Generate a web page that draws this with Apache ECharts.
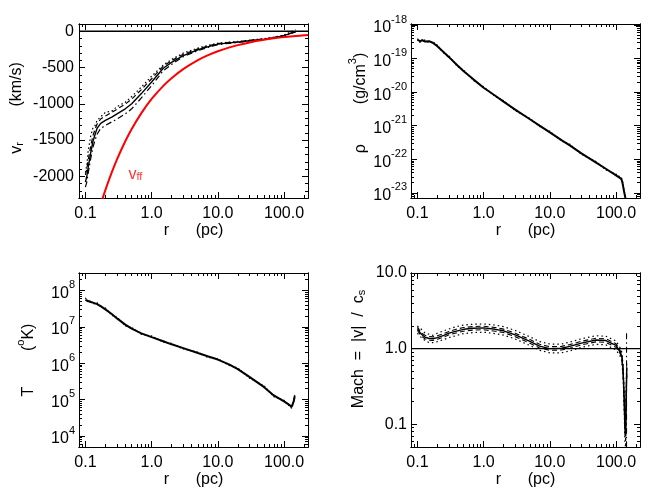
<!DOCTYPE html>
<html>
<head>
<meta charset="utf-8">
<title>profiles</title>
<script src="https://cdn.jsdelivr.net/npm/echarts@6/dist/echarts.min.js"></script>
<style>
  html, body { margin: 0; background: #fff; }
  #main { width: 664px; height: 498px; }
</style>
</head>
<body>
<div id="main"></div>
<script>
// ---- data (r in pc) ----
// panel 1: radial velocity (km/s)
var rV = [0.10, 0.105, 0.11, 0.12, 0.13, 0.14, 0.15, 0.17, 0.2, 0.25, 0.3, 0.4, 0.5, 0.7, 1.0, 1.5, 2, 3, 5, 7, 10, 15, 20, 30, 50, 70, 100, 150];
var vMain = [-2080, -2000, -1880, -1680, -1520, -1420, -1340, -1270, -1230, -1185, -1140, -1070, -1000, -860, -700, -510, -430, -335, -255, -215, -178, -160, -150, -131, -110, -90, -60, -5];
var vDash = [-1980, -1900, -1780, -1590, -1440, -1350, -1280, -1210, -1170, -1120, -1075, -1005, -935, -805, -655, -480, -405, -318, -243, -205, -171, -154, -145, -127, -106, -86, -56, -2];
var vDashDot = [-2150, -2080, -1960, -1760, -1600, -1500, -1420, -1340, -1300, -1250, -1210, -1140, -1070, -920, -750, -545, -458, -352, -267, -225, -185, -166, -155, -135, -114, -94, -64, -8];
var vDot = [-1950, -1850, -1650, -1450, -1330, -1300, -1230, -1180, -1120, -1100, -1040, -980, -900, -770, -620, -465, -390, -300, -232, -196, -165, -150, -141, -124, -102, -82, -52, 20];
var rFF = [0.17, 0.18, 0.2, 0.25, 0.3, 0.4, 0.5, 0.7, 1, 1.5, 2, 3, 5, 7, 10, 15, 20, 30, 50, 70, 100, 150, 200, 230];
var vFF = [-2390, -2317, -2191, -1947, -1767, -1518, -1348, -1129, -934, -753, -647, -522, -398, -333, -276, -222, -191, -154, -117, -98, -81, -66, -56, -52];
var vffLabelAt = [0.57, -1950];

// panel 2: density (g/cm^3)
var rRho = [0.1, 0.11, 0.12, 0.13, 0.15, 0.17, 0.2, 0.25, 0.3, 0.4, 0.5, 0.7, 1, 1.5, 2, 3, 5, 7, 10, 15, 20, 30, 50, 70, 100, 120, 125, 132, 140];
var rho = [3.6e-19, 3.3e-19, 3.5e-19, 3.2e-19, 3.3e-19, 2.95e-19, 2.34e-19, 1.55e-19, 1.1e-19, 6.3e-20, 4.2e-20, 2.4e-20, 1.35e-20, 7.8e-21, 5.2e-21, 3.0e-21, 1.55e-21, 1.0e-21, 6.3e-22, 3.7e-22, 2.6e-22, 1.5e-22, 7.9e-23, 5.2e-23, 3.3e-23, 2.6e-23, 2.0e-23, 1.1e-23, 6.3e-24];
var rhoAlt = [3.9e-19, 3.0e-19, 3.8e-19, 3.5e-19, 3.0e-19, 3.2e-19, 2.5e-19, 1.45e-19, 1.2e-19, 5.9e-20, 4.5e-20, 2.25e-20, 1.45e-20, 7.3e-21, 5.6e-21, 2.8e-21, 1.65e-21, 0.94e-21, 6.8e-22, 3.5e-22, 2.8e-22, 1.4e-22, 8.5e-23, 4.8e-23, 3.6e-23, 2.8e-23, 2.3e-23, 1.2e-23, 7e-24];

// panel 3: temperature (K)
var rT = [0.1, 0.11, 0.12, 0.13, 0.15, 0.17, 0.2, 0.25, 0.3, 0.4, 0.5, 0.7, 1, 1.5, 2, 3, 5, 7, 10, 15, 20, 30, 50, 70, 100, 120, 125, 130, 135, 140, 145];
var temp = [5.5e7, 5.1e7, 4.8e7, 4.6e7, 4.2e7, 3.7e7, 3.0e7, 2.24e7, 1.7e7, 1.15e7, 8.9e6, 6.6e6, 5.2e6, 4.0e6, 3.3e6, 2.6e6, 1.9e6, 1.55e6, 1.26e6, 9.1e5, 6.9e5, 4.2e5, 2.2e5, 1.3e5, 8.9e4, 7.2e4, 6.7e4, 6.3e4, 6.2e4, 8.9e4, 1.26e5];
var tempAlt = [6.3e7, 4.6e7, 5.3e7, 4.2e7, 4.6e7, 3.4e7, 3.3e7, 2.05e7, 1.85e7, 1.05e7, 9.6e6, 6.2e6, 5.6e6, 3.8e6, 3.5e6, 2.45e6, 2.0e6, 1.45e6, 1.33e6, 8.6e5, 7.4e5, 3.9e5, 2.4e5, 1.2e5, 9.6e4, 6.7e4, 7.2e4, 5.8e4, 7e4, 9.6e4, 1.35e5];

// panel 4: Mach number
var rM = [0.1, 0.105, 0.11, 0.12, 0.13, 0.15, 0.17, 0.2, 0.25, 0.3, 0.4, 0.5, 0.7, 1, 1.5, 2, 3, 5, 7, 10, 15, 20, 30, 50, 70, 100, 115, 122, 128, 133, 136, 139, 142, 145];
var mach = [1.85, 1.75, 1.62, 1.5, 1.42, 1.36, 1.35, 1.4, 1.5, 1.6, 1.72, 1.8, 1.86, 1.88, 1.8, 1.72, 1.52, 1.25, 1.08, 1.0, 1.01, 1.07, 1.18, 1.3, 1.28, 1.1, 0.9, 0.8, 0.5, 0.2, 0.09, 0.07, 0.2, 0.55];
var machHi = [1.95, 1.82, 1.7, 1.58, 1.5, 1.44, 1.43, 1.48, 1.58, 1.69, 1.82, 1.9, 1.96, 1.98, 1.9, 1.81, 1.6, 1.32, 1.14, 1.06, 1.07, 1.13, 1.25, 1.37, 1.35, 1.16, 0.95, 0.84, 0.55, 0.22, 0.1, 0.08, 0.22, 0.6];
var machLo = [1.75, 1.66, 1.54, 1.42, 1.35, 1.29, 1.28, 1.33, 1.42, 1.52, 1.63, 1.7, 1.76, 1.78, 1.7, 1.63, 1.44, 1.18, 1.02, 0.95, 0.96, 1.01, 1.12, 1.23, 1.21, 1.04, 0.86, 0.76, 0.45, 0.17, 0.08, 0.06, 0.17, 0.5];
var machDotHi = [2.0, 1.9, 1.85, 1.75, 1.6, 1.55, 1.5, 1.6, 1.72, 1.82, 1.97, 2.05, 2.1, 2.12, 2.05, 1.95, 1.74, 1.43, 1.24, 1.15, 1.15, 1.22, 1.35, 1.48, 1.46, 1.26, 1.03, 0.9, 0.6, 0.25, 0.12, 0.09, 0.25, 0.65];
var machDotLo = [1.6, 1.55, 1.45, 1.35, 1.28, 1.2, 1.2, 1.24, 1.32, 1.4, 1.5, 1.58, 1.63, 1.65, 1.58, 1.51, 1.34, 1.1, 0.95, 0.88, 0.88, 0.93, 1.04, 1.14, 1.12, 0.96, 0.8, 0.7, 0.4, 0.15, 0.06, 0.05, 0.15, 0.45];
var rSpike = [144, 144, 144];
var machSpike = [1.6, 0.4, 0.05];

// axis ranges and tick labels
var rRange = [0.08, 230];
var rTicks = [0.1, 1, 10, 100];
var rLabels = ['0.1', '1.0', '10.0', '100.0'];
var vRange = [-2300, 100];
var vTicks = [-2000, -1500, -1000, -500, 0];
var vLabels = ['-2000', '-1500', '-1000', '-500', '0'];
var rhoRange = [7e-24, 1.07e-18];
var rhoExp = [-23, -22, -21, -20, -19, -18];
var tRange = [5e3, 3e8];
var tExp = [4, 5, 6, 7, 8];
var machRange = [0.05, 10];
var machTicks = [0.1, 1, 10];
var machLabels = ['0.1', '1.0', '10.0'];

var FONT = '"Liberation Sans", Arial, Helvetica, sans-serif';
var lg = Math.log10;

var chart = echarts.init(document.getElementById('main'));

var grids = [
  { left: 79, top: 24, width: 229, height: 174 },
  { left: 411, top: 24, width: 229, height: 174 },
  { left: 79, top: 273, width: 229, height: 174 },
  { left: 411, top: 273, width: 229, height: 174 }
].map(function (g) {
  return Object.assign(g, { show: false, containLabel: false, outerBoundsMode: 'none' });
});

function logMinors(lo, hi) {
  var out = [];
  for (var e = -25; e <= 9; e++) {
    for (var k = 2; k <= 9; k++) {
      var v = lg(k) + e;
      if (v > lo && v < hi) out.push(v);
    }
  }
  return out;
}

var richText = {
  b: { fontSize: 16, fontFamily: FONT, color: '#000', lineHeight: 22, verticalAlign: 'bottom' },
  sup: { fontSize: 11, fontFamily: FONT, color: '#000', verticalAlign: 'top', lineHeight: 12 },
  sub: { fontSize: 11, fontFamily: FONT, color: '#000', verticalAlign: 'bottom', lineHeight: 10 }
};

var xAxes = [], yAxes = [];
// builds 4 axes per side pair: labelled major, minor, mirrored major, mirrored minor
function makeAxes(list, dim, gi, lo, hi, major, minor, fmt, name, nameGap, margin, namePad) {
  var sides = dim === 'x' ? ['bottom', 'top'] : ['left', 'right'];
  var start = list.length;
  sides.forEach(function (side, s) {
    [major, minor].forEach(function (vals, m) {
      var ax = {
        type: 'value', gridIndex: gi, position: side, offset: 0, min: lo, max: hi,
        axisLine: { show: true, onZero: false, lineStyle: { color: '#000', width: 1 } },
        splitLine: { show: false },
        axisTick: { show: true, inside: true, length: m ? 3 : 6, customValues: vals, lineStyle: { color: '#000', width: 1 } },
        axisLabel: { show: false }
      };
      if (s === 0 && m === 0) {
        ax.axisLabel = {
          show: true, customValues: vals, margin: margin, color: '#000',
          fontFamily: FONT, fontSize: 16, formatter: fmt, rich: richText
        };
        ax.name = name;
        ax.nameLocation = 'middle';
        ax.nameGap = nameGap;
        ax.nameRotate = dim === 'y' ? 90 : 0;
        ax.nameTextStyle = { color: '#000', fontFamily: FONT, fontSize: 16, rich: richText, padding: [0, 0, 0, namePad || 0] };
      }
      list.push(ax);
    });
  });
  return start;
}

function pick(ticks, labels) {
  return function (v) {
    var best = 0;
    for (var i = 1; i < ticks.length; i++) {
      if (Math.abs(ticks[i] - v) < Math.abs(ticks[best] - v)) best = i;
    }
    return labels[best];
  };
}
function powLabel(v) {
  return '{b|10}{sup|' + Math.round(v) + '}';
}

var rLo = lg(rRange[0]), rHi = lg(rRange[1]);
var rMaj = rTicks.map(lg), rMin = logMinors(rLo, rHi);
var xName = 'r      (pc)';

var ax = [], ay = [];
for (var g = 0; g < 4; g++) {
  ax.push(makeAxes(xAxes, 'x', g, rLo, rHi, rMaj, rMin, pick(rMaj, rLabels), xName, 20, 8));
}
var vMinor = [];
for (var vv = -2300; vv <= 100; vv += 100) { if (vv % 500 !== 0) vMinor.push(vv); }
ay.push(makeAxes(yAxes, 'y', 0, vRange[0], vRange[1], vTicks, vMinor, pick(vTicks, vLabels),
  '{b|v}{sub|r}{b|        (km/s)}', 54, 5, 6));
ay.push(makeAxes(yAxes, 'y', 1, lg(rhoRange[0]), lg(rhoRange[1]), rhoExp, logMinors(lg(rhoRange[0]), lg(rhoRange[1])), powLabel,
  '{b|ρ         (g/cm}{sup|3}{b|)}', 42, 4, 16));
ay.push(makeAxes(yAxes, 'y', 2, lg(tRange[0]), lg(tRange[1]), tExp, logMinors(lg(tRange[0]), lg(tRange[1])), powLabel,
  '{b|T        (}{sup|o}{b|K)}', 42, 4, 0));
var mMaj = machTicks.map(lg);
ay.push(makeAxes(yAxes, 'y', 3, lg(machRange[0]), lg(machRange[1]), mMaj, logMinors(lg(machRange[0]), lg(machRange[1])), pick(mMaj, machLabels),
  '{b|Mach  =  |v|  /  c}{sub|s}', 44, 4, 22));

function toXY(xs, ys, logY) {
  return xs.map(function (x, i) { return [lg(x), logY ? lg(ys[i]) : ys[i]]; });
}
function line(g, xs, ys, logY, opts) {
  return Object.assign({
    type: 'line', xAxisIndex: ax[g], yAxisIndex: ay[g],
    data: toXY(xs, ys, logY), showSymbol: false, symbol: 'none', silent: true,
    animation: false,
    lineStyle: { color: '#000', width: 1.4 }
  }, opts || {});
}
var dashDot = [6, 3, 1.5, 3];

var series = [
  // panel 1
  line(0, rRange, [0, 0], false, { lineStyle: { color: '#000', width: 1.4 } }),
  line(0, rV, vDot, false, { lineStyle: { color: '#000', width: 1.2, type: [1.5, 2.5] } }),
  line(0, rV, vDash, false, { lineStyle: { color: '#000', width: 1.2, type: [5, 3] } }),
  line(0, rV, vDashDot, false, { lineStyle: { color: '#000', width: 1.2, type: dashDot } }),
  line(0, rV, vMain, false, { lineStyle: { color: '#000', width: 1.4 } }),
  line(0, rFF, vFF, false, { smooth: 0.3, lineStyle: { color: '#ff0000', width: 2 } }),
  {
    type: 'scatter', xAxisIndex: ax[0], yAxisIndex: ay[0], symbolSize: 0, silent: true, animation: false,
    data: [[lg(vffLabelAt[0]), vffLabelAt[1]]],
    label: {
      show: true, position: 'inside', formatter: '{v|v}{s|ff}',
      rich: {
        v: { fontSize: 16, fontFamily: FONT, color: '#ff0000', lineHeight: 20, verticalAlign: 'bottom' },
        s: { fontSize: 11, fontFamily: FONT, color: '#ff0000', lineHeight: 10, verticalAlign: 'bottom' }
      }
    }
  },
  // panel 2
  line(1, rRho, rhoAlt, true, { lineStyle: { color: '#000', width: 1.2, type: [1.5, 2] } }),
  line(1, rRho, rho, true, { lineStyle: { color: '#000', width: 2 } }),
  // panel 3
  line(2, rT, tempAlt, true, { lineStyle: { color: '#000', width: 1.2, type: [1.5, 2] } }),
  line(2, rT, temp, true, { lineStyle: { color: '#000', width: 2 } }),
  // panel 4
  line(3, rRange, [1, 1], true, { lineStyle: { color: '#000', width: 1.4 } }),
  line(3, rM, machDotHi, true, { lineStyle: { color: '#000', width: 1.2, type: [1.5, 3] } }),
  line(3, rM, machDotLo, true, { lineStyle: { color: '#000', width: 1.2, type: [1.5, 3] } }),
  line(3, rM, machHi, true, { lineStyle: { color: '#000', width: 1.1, type: [5, 3] } }),
  line(3, rM, machLo, true, { lineStyle: { color: '#000', width: 1.1, type: [5, 3] } }),
  line(3, rSpike, machSpike, true, { lineStyle: { color: '#000', width: 1.1, type: dashDot } }),
  line(3, rM, mach, true, { lineStyle: { color: '#000', width: 1.4 } })
];

chart.setOption({
  backgroundColor: '#fff',
  animation: false,
  grid: grids,
  xAxis: xAxes,
  yAxis: yAxes,
  series: series
});
</script>
</body>
</html>
